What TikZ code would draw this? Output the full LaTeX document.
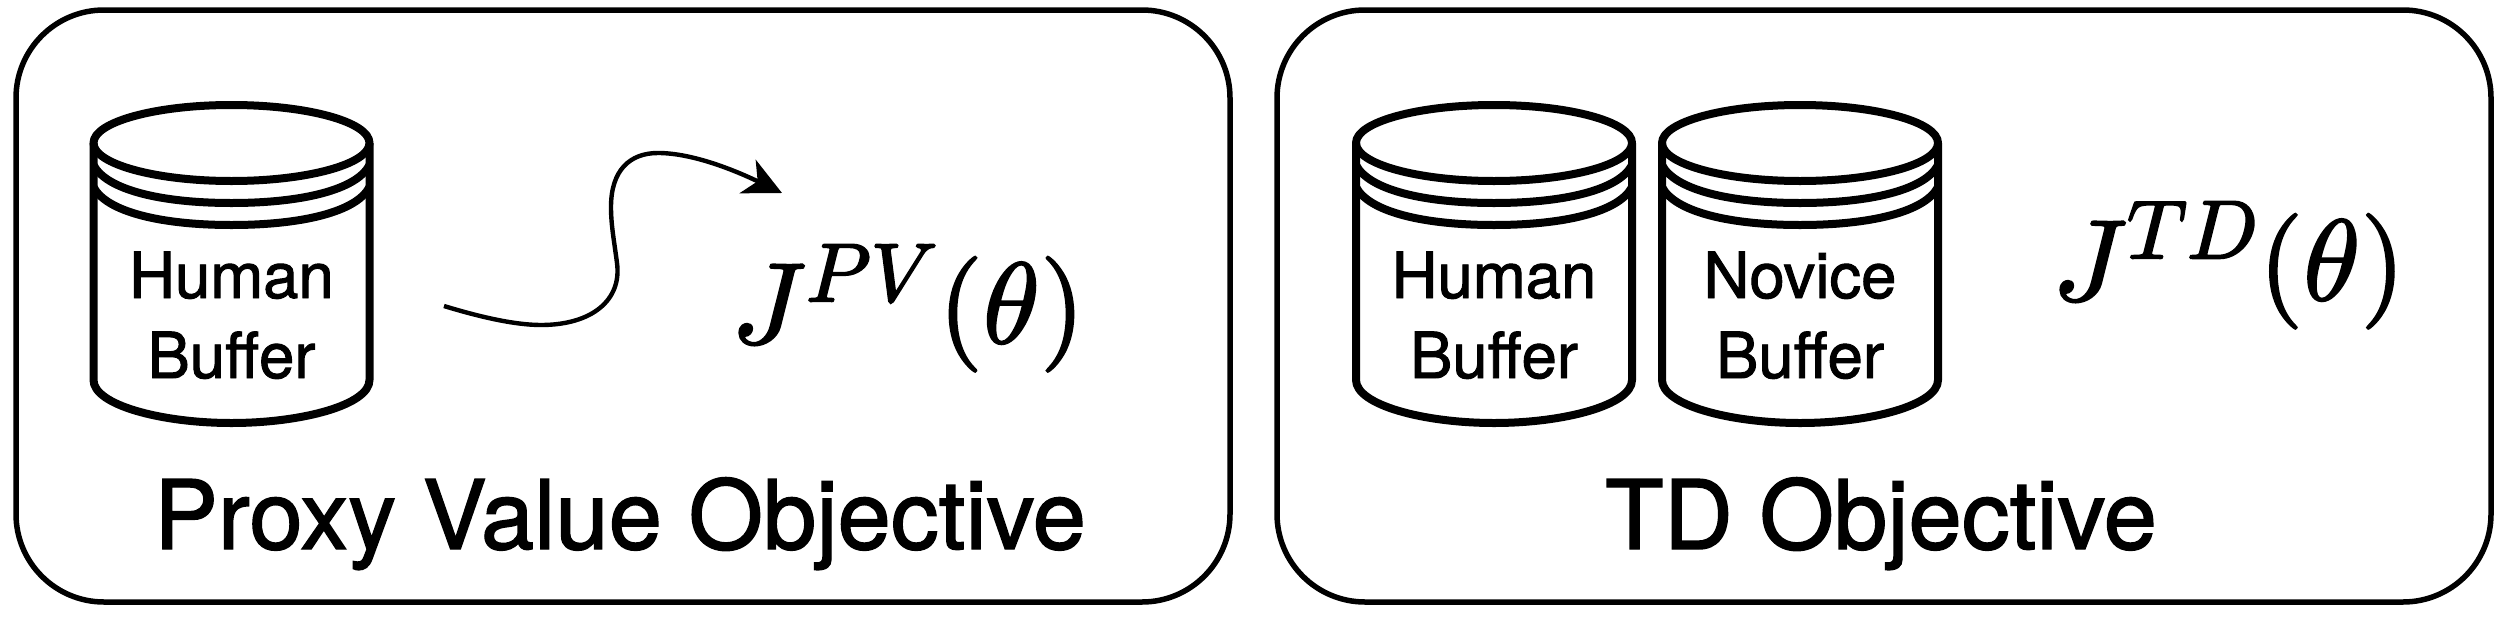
\RequirePackage{fix-cm}
\documentclass[tikz,border=0pt]{standalone}
\usepackage[no-math]{fontspec}
\setmainfont{TeX Gyre Heros}[FakeBold=1.5]
\usetikzlibrary{arrows.meta}
\DeclareFontFamily{OML}{plaincmm}{\skewchar\font=127}
\DeclareFontShape{OML}{plaincmm}{m}{it}{<-> cmmi10}{}
\DeclareFontFamily{OT1}{plaincmr}{}
\DeclareFontShape{OT1}{plaincmr}{m}{n}{<-> cmr10}{}
\DeclareSymbolFont{letters}{OML}{plaincmm}{m}{it}
\DeclareSymbolFont{operators}{OT1}{plaincmr}{m}{n}
\newcommand{\bufsize}{\fontsize{63.5}{63.5}\selectfont}
\newcommand{\titlesize}{\fontsize{95.8}{95.8}\selectfont}
\newcommand{\mathsize}{\fontsize{115}{115}\selectfont}
\newcommand{\heavymath}[1]{\special{pdf:code q 2 Tr 2 w}#1\special{pdf:code Q}}
\DeclareMathSizes{115}{115}{83}{60}
\tikzset{
  x=1pt,y=-1pt,
  panel/.style={draw=black,line width=5.5pt,rounded corners=88pt},
  bufline/.style={draw=black,line width=8pt,line join=round},
  buftext/.style={anchor=base,inner sep=0pt,font=\bufsize},
  titletext/.style={anchor=base,inner sep=0pt,font=\titlesize},
  formula/.style={anchor=base west,inner sep=0pt,font=\mathsize},
  flow/.style={draw=black,line width=4.4pt,-{Stealth[length=38pt,width=37pt,inset=11pt]}},
}
\newcommand{\buffer}[1]{%
  \begin{scope}[shift={(#1,0)}]
    \path[bufline] (-138,143) -- (-138,380) .. controls (-138,405) and (-70,423) .. (0,423)
       .. controls (70,423) and (138,405) .. (138,380) -- (138,143);
    \path[bufline] (0,143) ellipse [x radius=138,y radius=38];
    \path[bufline] (-138,165) .. controls (-125,190) and (-70,203) .. (0,203) .. controls (70,203) and (125,190) .. (138,165);
    \path[bufline] (-138,187) .. controls (-125,212) and (-70,225) .. (0,225) .. controls (70,225) and (125,212) .. (138,187);
  \end{scope}}
\begin{document}
\begin{tikzpicture}
\useasboundingbox (0,0) rectangle (2510,616);
\draw[panel] (16,10) rectangle (1230,602);
\draw[panel] (1277,10) rectangle (2491,602);
\buffer{231.5}
\buffer{1494}
\buffer{1800}
\node[buftext] (h1a) at (231.5,298) {Human};
\node[buftext] (h1b) at (231.5,378) {Buffer};
\node[buftext] (h2a) at (1494,298) {Human};
\node[buftext] (h2b) at (1494,378) {Buffer};
\node[buftext] (n2a) at (1800,298) {Novice};
\node[buftext] (n2b) at (1800,378) {Buffer};
\node[titletext] (t1) at (620,549) {Proxy Value Objective};
\node[titletext] (t2) at (1881,549) {TD Objective};
\node[formula] (f1) at (731,343) {\heavymath{$J^{PV}(\theta)$}};
\node[formula] (f2) at (2052,300) {\heavymath{$J^{TD}(\theta)$}};
\coordinate (s) at (444,306);
\coordinate (e) at (782,193);
\path[flow] (s) .. controls (480,317) and (515,325) .. (541,325)
  .. controls (592,325) and (622,300) .. (617,263)
  .. controls (614,240) and (611,225) .. (611,207)
  .. controls (611,170) and (630,153) .. (658,153)
  .. controls (690,153) and (730,168) .. (e);
\end{tikzpicture}
\end{document}
